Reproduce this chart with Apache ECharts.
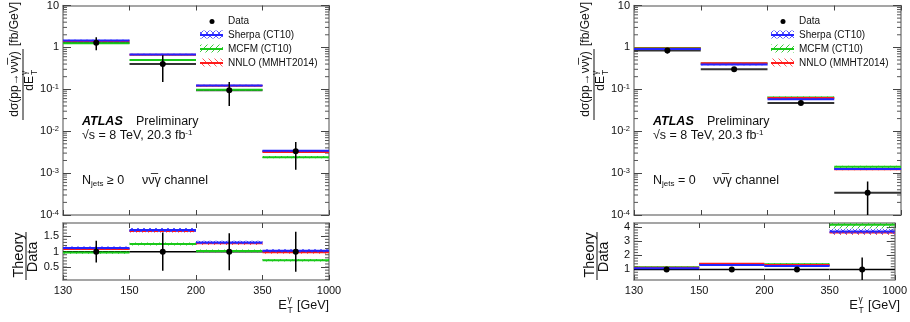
<!DOCTYPE html>
<html>
<head>
<meta charset="utf-8">
<script src="https://cdn.jsdelivr.net/npm/echarts@6.0.0/dist/echarts.min.js"></script>
<style>
html, body { margin: 0; padding: 0; background: #fff; }
#chart { width: 910px; height: 322px; }
</style>
</head>
<body>
<div id="chart"></div>
<script>
// bin edges of photon E_T, bins drawn with equal width
var binEdges = ['130', '150', '200', '350', '1000'];

// N_jets >= 0
var incData = [1.30, 0.40, 0.095, 0.0033];
var incDataLo = [0.85, 0.15, 0.040, 0.0012];
var incDataHi = [1.75, 0.65, 0.150, 0.0055];
var incSherpa = [1.46, 0.68, 0.124, 0.0034];
var incMcfm = [1.26, 0.50, 0.097, 0.0024];
var incNnlo = [1.42, 0.67, 0.121, 0.0032];
var incRatioSherpa = [1.12, 1.70, 1.30, 1.03];
var incRatioMcfm = [0.97, 1.25, 1.02, 0.72];
var incRatioNnlo = [1.09, 1.67, 1.27, 0.98];
var incRatioErr = [0.35, 0.62, 0.60, 0.65];

// N_jets = 0
var excData = [0.84, 0.30, 0.047, 0.00034];
var excDataLo = [0.72, 0.27, 0.042, 0.00005];
var excDataHi = [0.96, 0.33, 0.052, 0.00063];
var excSherpa = [0.92, 0.39, 0.058, 0.00126];
var excMcfm = [0.97, 0.41, 0.064, 0.00141];
var excNnlo = [0.94, 0.42, 0.062, 0.00123];
var excRatioSherpa = [1.08, 1.32, 1.24, 3.70];
var excRatioMcfm = [1.16, 1.38, 1.37, 4.18];
var excRatioNnlo = [1.12, 1.41, 1.32, 3.62];
var excRatioErr = [0.14, 0.10, 0.11, 0.85];

// relative half width of the hatched theory bands
var sherpaUnc = [0.04, 0.04, 0.04, 0.05];
var mcfmUnc = [0.04, 0.04, 0.05, 0.06];
var nnloUnc = [0.03, 0.03, 0.04, 0.05];

// tick labels
var incRatioTicks = [0.5, 1, 1.5];
var excRatioTicks = [1, 2, 3, 4];

var FONT = '"Liberation Sans", Arial, Helvetica, sans-serif';
var TXT = '#111';
var chart = echarts.init(document.getElementById('chart'));

function hatch(color, dirs) {
    var c = document.createElement('canvas');
    c.width = 6; c.height = 6;
    var g = c.getContext('2d');
    g.strokeStyle = color;
    g.lineWidth = 1;
    dirs.forEach(function (d) {
        g.beginPath();
        if (d == '/') { g.moveTo(-1, 7); g.lineTo(7, -1); }
        else { g.moveTo(-1, -1); g.lineTo(7, 7); }
        g.stroke();
    });
    return {image: c, repeat: 'repeat'};
}

// drawing order: green, red, blue on top
var models = [
    {name: 'MCFM (CT10)', color: '#19c819', pat: hatch('rgba(40,200,40,0.9)', ['/'])},
    {name: 'NNLO (MMHT2014)', color: '#ff1a1a', pat: hatch('rgba(255,70,70,0.9)', ['\\'])},
    {name: 'Sherpa (CT10)', color: '#2424ff', pat: hatch('rgba(70,70,255,0.9)', ['/', '\\'])}
];
var legendOrder = [2, 0, 1];

var panels = [
    {left: 63, width: 266, data: incData, lo: incDataLo, hi: incDataHi,
     theory: [incMcfm, incNnlo, incSherpa], unc: [mcfmUnc, nnloUnc, sherpaUnc],
     ratio: [incRatioMcfm, incRatioNnlo, incRatioSherpa], ratioErr: incRatioErr,
     rmin: 0.08, rmax: 1.93, rTicks: incRatioTicks, rStep: 0.1, njets: ' \u2265 0'},
    {left: 634, width: 267, data: excData, lo: excDataLo, hi: excDataHi,
     theory: [excMcfm, excNnlo, excSherpa], unc: [mcfmUnc, nnloUnc, sherpaUnc],
     ratio: [excRatioMcfm, excRatioNnlo, excRatioSherpa], ratioErr: excRatioErr,
     rmin: 0.25, rmax: 4.3, rTicks: excRatioTicks, rStep: 0.2, njets: ' = 0'}
];

var grids = [], xAxes = [], yAxes = [], series = [], graphics = [];
var axisLine = {show: true, onZero: false, lineStyle: {color: '#888', width: 1.5}};

function xAx(gi, pos, showLabel) {
    return {
        type: 'value', gridIndex: gi, min: 0, max: 4, interval: 1, position: pos,
        axisLine: axisLine,
        axisTick: {show: true, inside: true, length: 5, lineStyle: {color: '#444'}},
        axisLabel: {show: showLabel, margin: 5, color: TXT, fontSize: 11, fontFamily: FONT,
            formatter: function (v) { return binEdges[Math.round(v)]; }},
        splitLine: {show: false}
    };
}

function logAx(gi, pos, showLabel) {
    return {
        type: 'log', logBase: 10, gridIndex: gi, min: 1e-4, max: 10, position: pos,
        axisLine: axisLine,
        axisTick: {show: true, inside: true, length: 8, lineStyle: {color: '#444'}},
        axisLabel: {show: showLabel, margin: 4, color: TXT, fontSize: 11, fontFamily: FONT,
            formatter: function (v) {
                var e = Math.round(Math.log(v) / Math.LN10);
                if (e == 1) return '10';
                if (e == 0) return '1';
                return '10{sup|' + e + '}';
            },
            rich: {sup: {fontSize: 7.5, fontFamily: FONT, color: TXT, verticalAlign: 'top', padding: [0, 0, 5, 0]}}},
        splitLine: {show: false}
    };
}

function ratioAx(gi, pos, showLabel, p) {
    return {
        type: 'value', gridIndex: gi, min: p.rmin, max: p.rmax, position: pos,
        axisLine: axisLine,
        axisTick: {show: true, inside: true, length: 8, customValues: p.rTicks, lineStyle: {color: '#444'}},
        axisLabel: {show: showLabel, margin: 4, color: TXT, fontSize: 11, fontFamily: FONT,
            customValues: p.rTicks},
        splitLine: {show: false}
    };
}

function flatItem(color, width) {
    return function (params, api) {
        var i = api.value(0), v = api.value(1);
        var a = api.coord([i, v]), b = api.coord([i + 1, v]);
        return {type: 'line', shape: {x1: a[0], y1: a[1], x2: b[0], y2: b[1]},
            style: {stroke: color, lineWidth: width}};
    };
}

function bandItem(m) {
    return function (params, api) {
        var i = api.value(0), v = api.value(1);
        var a = api.coord([i, v]), b = api.coord([i + 1, v]);
        var top = api.coord([i, api.value(3)])[1], bot = api.coord([i, api.value(2)])[1];
        return {type: 'group', children: [
            {type: 'rect', shape: {x: a[0], y: top, width: b[0] - a[0], height: bot - top},
                style: {fill: m.pat}},
            {type: 'line', shape: {x1: a[0], y1: a[1], x2: b[0], y2: b[1]},
                style: {stroke: m.color, lineWidth: 2}}
        ]};
    };
}

function pointItem(params, api) {
    var i = api.value(0) + 0.5;
    var c = api.coord([i, api.value(1)]);
    var lo = api.coord([i, api.value(2)]), hi = api.coord([i, api.value(3)]);
    return {type: 'group', children: [
        {type: 'line', shape: {x1: c[0], y1: lo[1], x2: c[0], y2: hi[1]},
            style: {stroke: '#000', lineWidth: 1.5}},
        {type: 'circle', shape: {cx: c[0], cy: c[1], r: 3}, style: {fill: '#000'}}
    ]};
}

function minorItem(len) {
    return function (params, api) {
        var y = api.coord([0, api.value(1)])[1];
        var r = params.coordSys;
        return {type: 'group', children: [
            {type: 'line', shape: {x1: r.x, y1: y, x2: r.x + len, y2: y}, style: {stroke: '#555', lineWidth: 1}},
            {type: 'line', shape: {x1: r.x + r.width - len, y1: y, x2: r.x + r.width, y2: y}, style: {stroke: '#555', lineWidth: 1}}
        ]};
    };
}

function custom(gi, data, render, z) {
    return {type: 'custom', xAxisIndex: gi, yAxisIndex: gi, data: data, renderItem: render,
        clip: true, silent: true, z: z, animation: false};
}

var logMinor = [];
for (var e = -4; e < 1; e++) {
    for (var d = 2; d < 10; d++) logMinor.push([0, d * Math.pow(10, e)]);
}

panels.forEach(function (p, k) {
    var gm = 2 * k, gr = 2 * k + 1, dx = p.left - 63;
    grids.push({left: p.left, top: 4, width: p.width, height: 211});
    grids.push({left: p.left, top: 223, width: p.width, height: 57});
    xAxes[gm] = xAx(gm, 'bottom', false);
    xAxes[gr] = xAx(gr, 'bottom', true);
    xAxes[gm + 4] = xAx(gm, 'top', false);
    xAxes[gr + 4] = xAx(gr, 'top', false);
    yAxes[gm] = logAx(gm, 'left', true);
    yAxes[gr] = ratioAx(gr, 'left', true, p);
    yAxes[gm + 4] = logAx(gm, 'right', false);
    yAxes[gr + 4] = ratioAx(gr, 'right', false, p);

    // main panel
    series.push(custom(gm, p.data.map(function (v, i) { return [i, v]; }), flatItem('#333', 2), 2));
    models.forEach(function (m, j) {
        var vals = p.theory[j], u = p.unc[j];
        series.push(custom(gm, vals.map(function (v, i) { return [i, v, v * (1 - u[i]), v * (1 + u[i])]; }), bandItem(m), 3 + j));
    });
    series.push(custom(gm, p.data.map(function (v, i) { return [i, v, p.lo[i], p.hi[i]]; }), pointItem, 10));
    series.push(custom(gm, logMinor, minorItem(4), 1));

    // ratio panel
    series.push(custom(gr, p.data.map(function (v, i) { return [i, 1]; }), flatItem('#000', 1.5), 2));
    models.forEach(function (m, j) {
        var vals = p.ratio[j], u = p.unc[j];
        series.push(custom(gr, vals.map(function (v, i) { return [i, v, v * (1 - u[i]), v * (1 + u[i])]; }), bandItem(m), 3 + j));
    });
    series.push(custom(gr, p.ratioErr.map(function (e, i) { return [i, 1, 1 - e, 1 + e]; }), pointItem, 10));
    var rMinor = [];
    for (var t = Math.ceil(p.rmin / p.rStep) * p.rStep; t < p.rmax; t += p.rStep) rMinor.push([0, t]);
    series.push(custom(gr, rMinor, minorItem(4), 1));

    // legend
    var lx = dx + 200;
    graphics.push({type: 'circle', shape: {cx: lx + 12, cy: 21.5, r: 2.5}, style: {fill: '#000'}});
    graphics.push({type: 'text', x: lx + 28, y: 21.5, style: {text: 'Data', font: '10px ' + FONT, fill: TXT, textAlign: 'left', textVerticalAlign: 'middle'}});
    legendOrder.forEach(function (j, r) {
        var m = models[j], y = 35 + 14 * r;
        graphics.push({type: 'rect', shape: {x: lx, y: y - 4.5, width: 23, height: 8}, style: {fill: m.pat}});
        graphics.push({type: 'line', shape: {x1: lx, y1: y, x2: lx + 23, y2: y}, style: {stroke: m.color, lineWidth: 2}});
        graphics.push({type: 'text', x: lx + 28, y: y, style: {text: m.name, font: '10px ' + FONT, fill: TXT, textAlign: 'left', textVerticalAlign: 'middle'}});
    });

    // labels
    graphics.push({type: 'text', x: dx + 82, y: 122, style: {text: 'ATLAS', font: 'italic bold 12.5px ' + FONT, fill: '#000', textAlign: 'left', textVerticalAlign: 'middle'}});
    graphics.push({type: 'text', x: dx + 136, y: 122, style: {text: 'Preliminary', font: '12.5px ' + FONT, fill: TXT, textAlign: 'left', textVerticalAlign: 'middle'}});
    graphics.push({type: 'text', x: dx + 82, y: 136, style: {text: '\u221As = 8 TeV, 20.3 fb{sup|-1}', font: '12.5px ' + FONT, fill: TXT, textAlign: 'left', textVerticalAlign: 'middle',
        rich: {sup: {fontSize: 8, fontFamily: FONT, fill: TXT, verticalAlign: 'top', padding: [0, 0, 6, 0]}}}});
    graphics.push({type: 'text', x: dx + 82, y: 181, style: {text: 'N{sub|jets}' + p.njets, font: '12.5px ' + FONT, fill: TXT, textAlign: 'left', textVerticalAlign: 'middle',
        rich: {sub: {fontSize: 8, fontFamily: FONT, fill: TXT, verticalAlign: 'bottom', padding: [6, 0, 0, 0]}}}});
    graphics.push({type: 'text', x: dx + 142, y: 181, style: {text: '\u03BD\u03BD\u0305\u03B3 channel', font: '12.5px ' + FONT, fill: TXT, textAlign: 'left', textVerticalAlign: 'middle'}});

    // y title of the main panel
    graphics.push({type: 'group', x: dx, y: 125, rotation: Math.PI / 2, children: [
        {type: 'text', x: 41, y: 14.5, style: {text: 'd\u03C3(pp\u2192\u03BD\u03BD\u0305\u03B3)', font: '12px ' + FONT, fill: TXT, textAlign: 'center', textVerticalAlign: 'middle'}},
        {type: 'line', shape: {x1: 5, y1: 23, x2: 76, y2: 23}, style: {stroke: TXT, lineWidth: 1}},
        {type: 'text', x: 49, y: 30, style: {text: 'dE', font: '12px ' + FONT, fill: TXT, textAlign: 'right', textVerticalAlign: 'middle'}},
        {type: 'text', x: 50, y: 25, style: {text: '\u03B3', font: '8.5px ' + FONT, fill: TXT, textAlign: 'left', textVerticalAlign: 'middle'}},
        {type: 'text', x: 50, y: 34.5, style: {text: 'T', font: '8.5px ' + FONT, fill: TXT, textAlign: 'left', textVerticalAlign: 'middle'}},
        {type: 'text', x: 101, y: 14.5, style: {text: '[fb/GeV]', font: '12px ' + FONT, fill: TXT, textAlign: 'center', textVerticalAlign: 'middle'}}
    ]});
    // y title of the ratio panel
    graphics.push({type: 'group', x: dx, y: 281, rotation: Math.PI / 2, children: [
        {type: 'text', x: 26, y: 18.5, style: {text: 'Theory', font: '14.5px ' + FONT, fill: TXT, textAlign: 'center', textVerticalAlign: 'middle'}},
        {type: 'line', shape: {x1: 1, y1: 26, x2: 49, y2: 26}, style: {stroke: TXT, lineWidth: 1}},
        {type: 'text', x: 24, y: 33, style: {text: 'Data', font: '14.5px ' + FONT, fill: TXT, textAlign: 'center', textVerticalAlign: 'middle'}}
    ]});
    // x title
    graphics.push({type: 'text', x: dx + 287, y: 305, style: {text: 'E', font: '13px ' + FONT, fill: TXT, textAlign: 'right', textVerticalAlign: 'middle'}});
    graphics.push({type: 'text', x: dx + 287.5, y: 300, style: {text: '\u03B3', font: '8.5px ' + FONT, fill: TXT, textAlign: 'left', textVerticalAlign: 'middle'}});
    graphics.push({type: 'text', x: dx + 287.5, y: 310.5, style: {text: 'T', font: '8.5px ' + FONT, fill: TXT, textAlign: 'left', textVerticalAlign: 'middle'}});
    graphics.push({type: 'text', x: dx + 329, y: 305.5, style: {text: '[GeV]', font: '12.5px ' + FONT, fill: TXT, textAlign: 'right', textVerticalAlign: 'middle'}});
});

chart.setOption({
    animation: false,
    backgroundColor: '#fff',
    grid: grids,
    xAxis: xAxes,
    yAxis: yAxes,
    series: series,
    graphic: graphics
});
</script>
</body>
</html>
